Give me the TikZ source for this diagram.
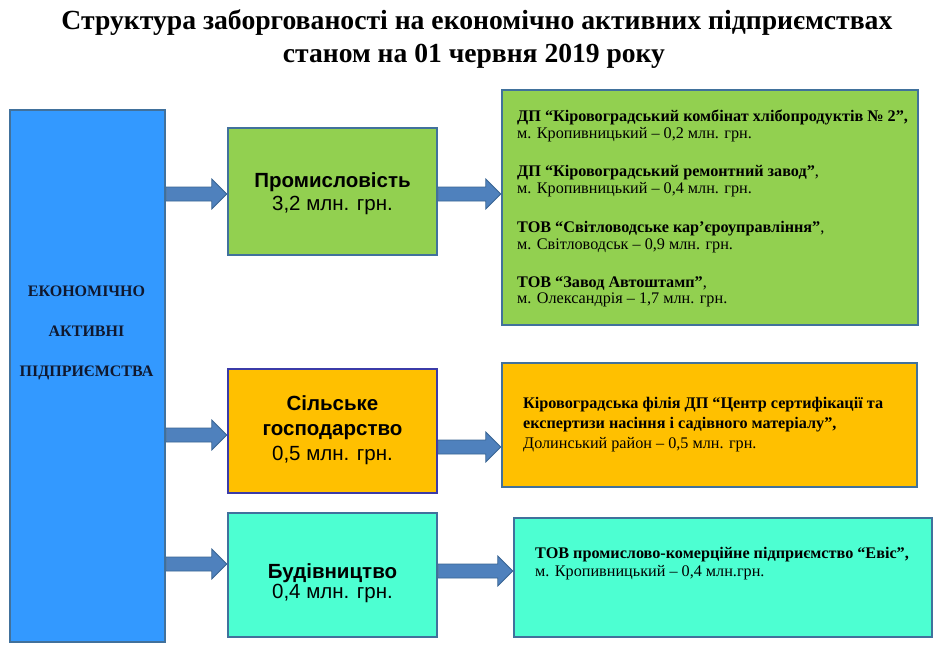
\documentclass[tikz,border=0pt]{standalone}
\usepackage{fontspec}
\setmainfont{Liberation Serif}
\newfontfamily\arialf{Liberation Sans}
\usetikzlibrary{calc}
\definecolor{bluebox}{HTML}{3399FF}
\definecolor{greenbox}{HTML}{92D050}
\definecolor{orangebox}{HTML}{FFC000}
\definecolor{aquabox}{HTML}{4DFFD2}
\definecolor{slateb}{HTML}{41719C}
\definecolor{purpb}{HTML}{3B3BA8}
\definecolor{arrfill}{HTML}{4F81BD}
\definecolor{arrdraw}{HTML}{3A6593}
\definecolor{navytext}{HTML}{10182E}
\newcommand\fatarr[2]{%
  \path[fatarrowsty] let \p1=(#1), \p2=(#2) in
    (\x1,\y1+7pt) -- (\x2-15pt,\y1+7pt) -- (\x2-15pt,\y1+15pt) -- (\x2,\y1)
    -- (\x2-15pt,\y1-15pt) -- (\x2-15pt,\y1-7pt) -- (\x1,\y1-7pt) -- cycle;}
\begin{document}
\begin{tikzpicture}[x=1pt,y=-1pt,
  box/.style={draw=slateb, line width=2.5pt, inner sep=0pt},
  fatarrowsty/.style={fill=arrfill, draw=arrdraw, line width=0.8pt, line join=miter},
  midtext/.style={font=\arialf\fontsize{20.5}{23}\selectfont, align=center, inner sep=0pt},
  righttext/.style={font=\fontsize{16.2}{16.5}\selectfont, align=left, anchor=west, inner sep=0pt}]
\useasboundingbox[fill=white] (0,0) rectangle (941,663);

% title
\node[inner sep=0pt] (T1) at (477,23) {\resizebox{831pt}{!}{\bfseries Структура заборгованості на економічно активних підприємствах}};
\node[inner sep=0pt] (T2) at (474,56) {\resizebox{382pt}{!}{\bfseries станом на 01 червня 2019 року}};

% boxes
\node[box, fill=bluebox, minimum width=155pt, minimum height=532pt] (L) at (87.5,376) {};
\node[font=\bfseries\fontsize{16}{40}\selectfont, text=navytext, align=center, inner sep=0pt] (Lt) at (86.5,333)
  {ЕКОНОМІЧНО\\АКТИВНІ\\ПІДПРИЄМСТВА};

\node[box, fill=greenbox, minimum width=209pt, minimum height=127pt] (I) at (332.5,191.5) {};
\node[midtext] (It) at (332.5,194) {\textbf{Промисловість}\\3,2 млн. грн.};

\node[box, draw=purpb, fill=orangebox, minimum width=209pt, minimum height=124pt] (A) at (332.5,431) {};
\node[midtext, font=\arialf\fontsize{20.5}{25}\selectfont] (At) at (332.5,430)
  {\textbf{Сільське}\\\textbf{господарство}\\0,5 млн. грн.};

\node[box, fill=aquabox, minimum width=209pt, minimum height=124pt] (C) at (332.5,575) {};
\node[midtext, font=\arialf\fontsize{20.5}{20}\selectfont] (Ct) at (332.5,583) {\textbf{Будівництво}\\0,4 млн. грн.};

\node[box, fill=greenbox, minimum width=416pt, minimum height=235pt] (G) at (710,207.5) {};
\node[righttext] (G1) at (517,126) {\textbf{ДП “Кіровоградський комбінат хлібопродуктів № 2”,}\\м. Кропивницький – 0,2 млн. грн.};
\node[righttext] (G2) at (517,181) {\textbf{ДП “Кіровоградський ремонтний завод”}, \\м. Кропивницький – 0,4 млн. грн.};
\node[righttext] (G3) at (517,237) {\textbf{ТОВ “Світловодське кар’єроуправління”}, \\м. Світловодськ – 0,9 млн. грн.};
\node[righttext] (G4) at (517,292) {\textbf{ТОВ “Завод Автоштамп”}, \\м. Олександрія – 1,7 млн. грн.};

\node[box, fill=orangebox, minimum width=415pt, minimum height=124pt] (O) at (709.5,425) {};
\node[righttext, font=\fontsize{16.2}{20}\selectfont] (Ot) at (523,425)
  {\textbf{Кіровоградська філія ДП “Центр сертифікації та}\\\textbf{експертизи насіння і садівного матеріалу”,}\\Долинський район – 0,5 млн. грн.};

\node[box, fill=aquabox, minimum width=418pt, minimum height=119pt] (Q) at (723,577.5) {};
\node[righttext, font=\fontsize{16.2}{18}\selectfont] (Qt) at (535,564)
  {\textbf{ТОВ промислово-комерційне підприємство “Евіс”,}\\м. Кропивницький – 0,4 млн.грн.};

% arrow levels
\coordinate (y1) at (0,194);
\coordinate (y2) at (0,194);
\coordinate (y3) at (0,435);
\coordinate (y4) at (0,447);
\coordinate (y5) at (0,564);
\coordinate (y6) at (0,571);

\fatarr{L.east |- y1}{I.west |- y1}
\fatarr{I.east |- y2}{G.west |- y2}
\fatarr{L.east |- y3}{A.west |- y3}
\fatarr{A.east |- y4}{O.west |- y4}
\fatarr{L.east |- y5}{C.west |- y5}
\fatarr{C.east |- y6}{Q.west |- y6}
\end{tikzpicture}
\end{document}
